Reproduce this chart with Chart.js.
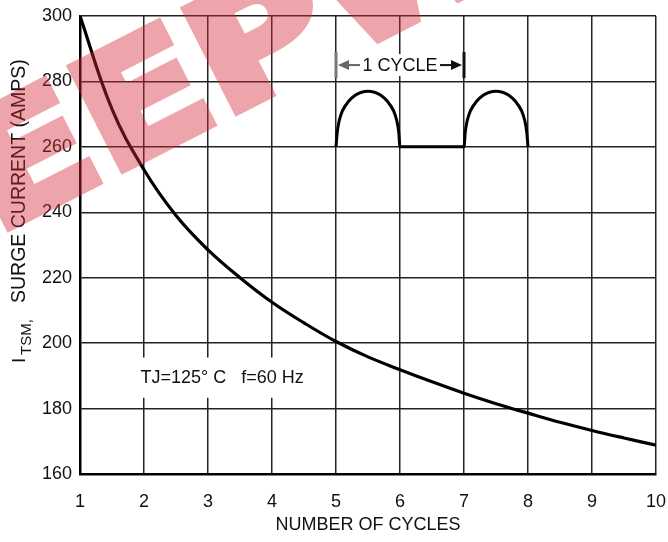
<!DOCTYPE html>
<html>
<head>
<meta charset="utf-8">
<script src="https://cdn.jsdelivr.net/npm/chart.js@4.4.1/dist/chart.umd.min.js"></script>
<style>
  html, body { margin: 0; padding: 0; background: #fff; }
  #wrap { width: 668px; height: 542px; }
</style>
</head>
<body>
<div id="wrap"><canvas id="surgeChart" width="668" height="542"></canvas></div>
<script>
// surge current vs number of cycles
const cycles = [1, 1.5, 2, 2.5, 3, 3.5, 4, 4.5, 5, 5.5, 6, 6.5, 7, 7.5, 8, 8.5, 9, 9.5, 10];
const surgeAmps = [300, 271.5, 253, 239, 228.5, 220, 212.5, 206.2, 200.5, 195.8, 191.9, 188.2, 184.7, 181.5, 178.6, 175.8, 173.3, 171, 168.8];

// inset waveform (half-wave pulses drawn inside the plot)
const waveX = [5, 5.02, 5.05, 5.1, 5.2, 5.3, 5.4, 5.5, 5.6, 5.7, 5.8, 5.9, 5.95, 5.98, 6,
               7, 7.02, 7.05, 7.1, 7.2, 7.3, 7.4, 7.5, 7.6, 7.7, 7.8, 7.9, 7.95, 7.98, 8];
const waveY = [260, 264.5, 268, 271, 274, 275.8, 276.7, 277, 276.7, 275.8, 274, 271, 268, 264.5, 260,
               260, 264.5, 268, 271, 274, 275.8, 276.7, 277, 276.7, 275.8, 274, 271, 268, 264.5, 260];

const xTicks = [1, 2, 3, 4, 5, 6, 7, 8, 9, 10];
const yTicks = [160, 180, 200, 220, 240, 260, 280, 300];
const cycleSpan = [5, 7];
const cycleLevel = 285;
const condNote = 'TJ=125\u00b0 C   f=60 Hz';
const condAt = [3.22, 189.3];

const FONT = "'Liberation Sans', Arial, sans-serif";

function drawWatermark(ctx, w, h) {
  const off = document.createElement('canvas');
  off.width = w; off.height = h;
  const o = off.getContext('2d');
  o.translate(-5, 234);
  o.rotate(-27 * Math.PI / 180);
  o.scale(1.2, 1);
  o.font = "bold 156px 'DejaVu Sans', sans-serif";
  o.fillStyle = o.strokeStyle = 'rgb(215, 40, 55)';
  o.lineWidth = 9;
  o.lineJoin = 'miter';
  o.fillText('EEPW', 0, 0);
  o.strokeText('EEPW', 0, 0);
  ctx.save();
  ctx.globalAlpha = 0.42;
  ctx.drawImage(off, 0, 0);
  ctx.restore();
}

const annotations = {
  id: 'annotations',
  beforeDatasetsDraw(chart) {
    const { ctx, scales: { x, y } } = chart;
    ctx.save();
    // white patch behind the conditions note
    ctx.fillStyle = '#fff';
    ctx.fillRect(x.getPixelForValue(1.88), y.getPixelForValue(195.6),
      x.getPixelForValue(4.55) - x.getPixelForValue(1.88),
      y.getPixelForValue(183.3) - y.getPixelForValue(195.6));
    ctx.fillStyle = '#111';
    ctx.font = '18px ' + FONT;
    ctx.textAlign = 'center';
    ctx.textBaseline = 'middle';
    ctx.fillText(condNote, x.getPixelForValue(condAt[0]), y.getPixelForValue(condAt[1]));

    // 1 CYCLE marker
    const x0 = x.getPixelForValue(cycleSpan[0]);
    const x1 = x.getPixelForValue(cycleSpan[1]);
    const yc = y.getPixelForValue(cycleLevel);
    ctx.fillStyle = '#fff';
    ctx.fillRect(x0 + 2, yc - 11, x1 - x0 - 4, 22);
    ctx.lineWidth = 3;
    ctx.strokeStyle = '#777';
    ctx.beginPath(); ctx.moveTo(x0, yc - 13); ctx.lineTo(x0, yc + 13); ctx.stroke();
    ctx.strokeStyle = '#111';
    ctx.beginPath(); ctx.moveTo(x1, yc - 13); ctx.lineTo(x1, yc + 13); ctx.stroke();
    ctx.lineWidth = 2;
    // left arrow
    ctx.strokeStyle = '#666'; ctx.fillStyle = '#666';
    ctx.beginPath(); ctx.moveTo(x0 + 10, yc); ctx.lineTo(x0 + 24, yc); ctx.stroke();
    ctx.beginPath(); ctx.moveTo(x0 + 2, yc); ctx.lineTo(x0 + 13, yc - 5); ctx.lineTo(x0 + 13, yc + 5); ctx.closePath(); ctx.fill();
    // right arrow
    ctx.strokeStyle = '#111'; ctx.fillStyle = '#111';
    ctx.beginPath(); ctx.moveTo(x1 - 24, yc); ctx.lineTo(x1 - 10, yc); ctx.stroke();
    ctx.beginPath(); ctx.moveTo(x1 - 2, yc); ctx.lineTo(x1 - 13, yc - 5); ctx.lineTo(x1 - 13, yc + 5); ctx.closePath(); ctx.fill();
    ctx.fillText('1 CYCLE', (x0 + x1) / 2, yc + 1);
    ctx.restore();
  },
  afterDraw(chart) {
    const { ctx } = chart;
    ctx.save();
    // y-axis title with subscript
    ctx.translate(25, 363);
    ctx.rotate(-Math.PI / 2);
    ctx.fillStyle = '#111';
    ctx.textBaseline = 'alphabetic';
    ctx.textAlign = 'left';
    ctx.font = '19px ' + FONT;
    ctx.fillText('I', 0, 0);
    ctx.font = '15px ' + FONT;
    ctx.fillText('TSM,', 8, 6);
    ctx.font = '19.5px ' + FONT;
    ctx.fillText('SURGE CURRENT (AMPS)', 60, 0);
    ctx.restore();

    drawWatermark(ctx, chart.width, chart.height);
  }
};

new Chart(document.getElementById('surgeChart').getContext('2d'), {
  type: 'scatter',
  data: {
    datasets: [
      {
        data: cycles.map((c, i) => ({ x: c, y: surgeAmps[i] })),
        showLine: true,
        borderColor: '#000',
        borderWidth: 3.2,
        pointRadius: 0,
        tension: 0.4
      },
      {
        data: waveX.map((c, i) => ({ x: c, y: waveY[i] })),
        showLine: true,
        borderColor: '#000',
        borderWidth: 3,
        pointRadius: 0,
        cubicInterpolationMode: 'monotone'
      }
    ]
  },
  options: {
    responsive: false,
    animation: false,
    layout: { padding: { top: 16, right: 12, left: 0, bottom: 0 } },
    plugins: { legend: { display: false }, tooltip: { enabled: false } },
    scales: {
      x: {
        type: 'linear',
        min: 1, max: 10,
        afterBuildTicks: s => { s.ticks = xTicks.map(v => ({ value: v })); },
        afterFit: s => { s.height = 68; s.paddingRight = 0; s.paddingLeft = 0; },
        grid: { color: '#222', lineWidth: 1.5, drawTicks: false },
        border: { color: '#000', width: 2.5 },
        ticks: { color: '#111', font: { size: 18, family: FONT }, padding: 17, maxRotation: 0 },
        title: { display: true, text: 'NUMBER OF CYCLES', color: '#111', font: { size: 18, family: FONT }, padding: { top: 0, bottom: 6 } }
      },
      y: {
        min: 160, max: 300,
        afterBuildTicks: s => { s.ticks = yTicks.map(v => ({ value: v })); },
        afterFit: s => { s.width = 80; s.paddingTop = 0; s.paddingBottom = 0; },
        grid: { color: '#222', lineWidth: 1.5, drawTicks: false },
        border: { color: '#000', width: 2.5 },
        ticks: { color: '#111', font: { size: 18, family: FONT }, padding: 8 }
      }
    }
  },
  plugins: [annotations]
});
</script>
</body>
</html>
